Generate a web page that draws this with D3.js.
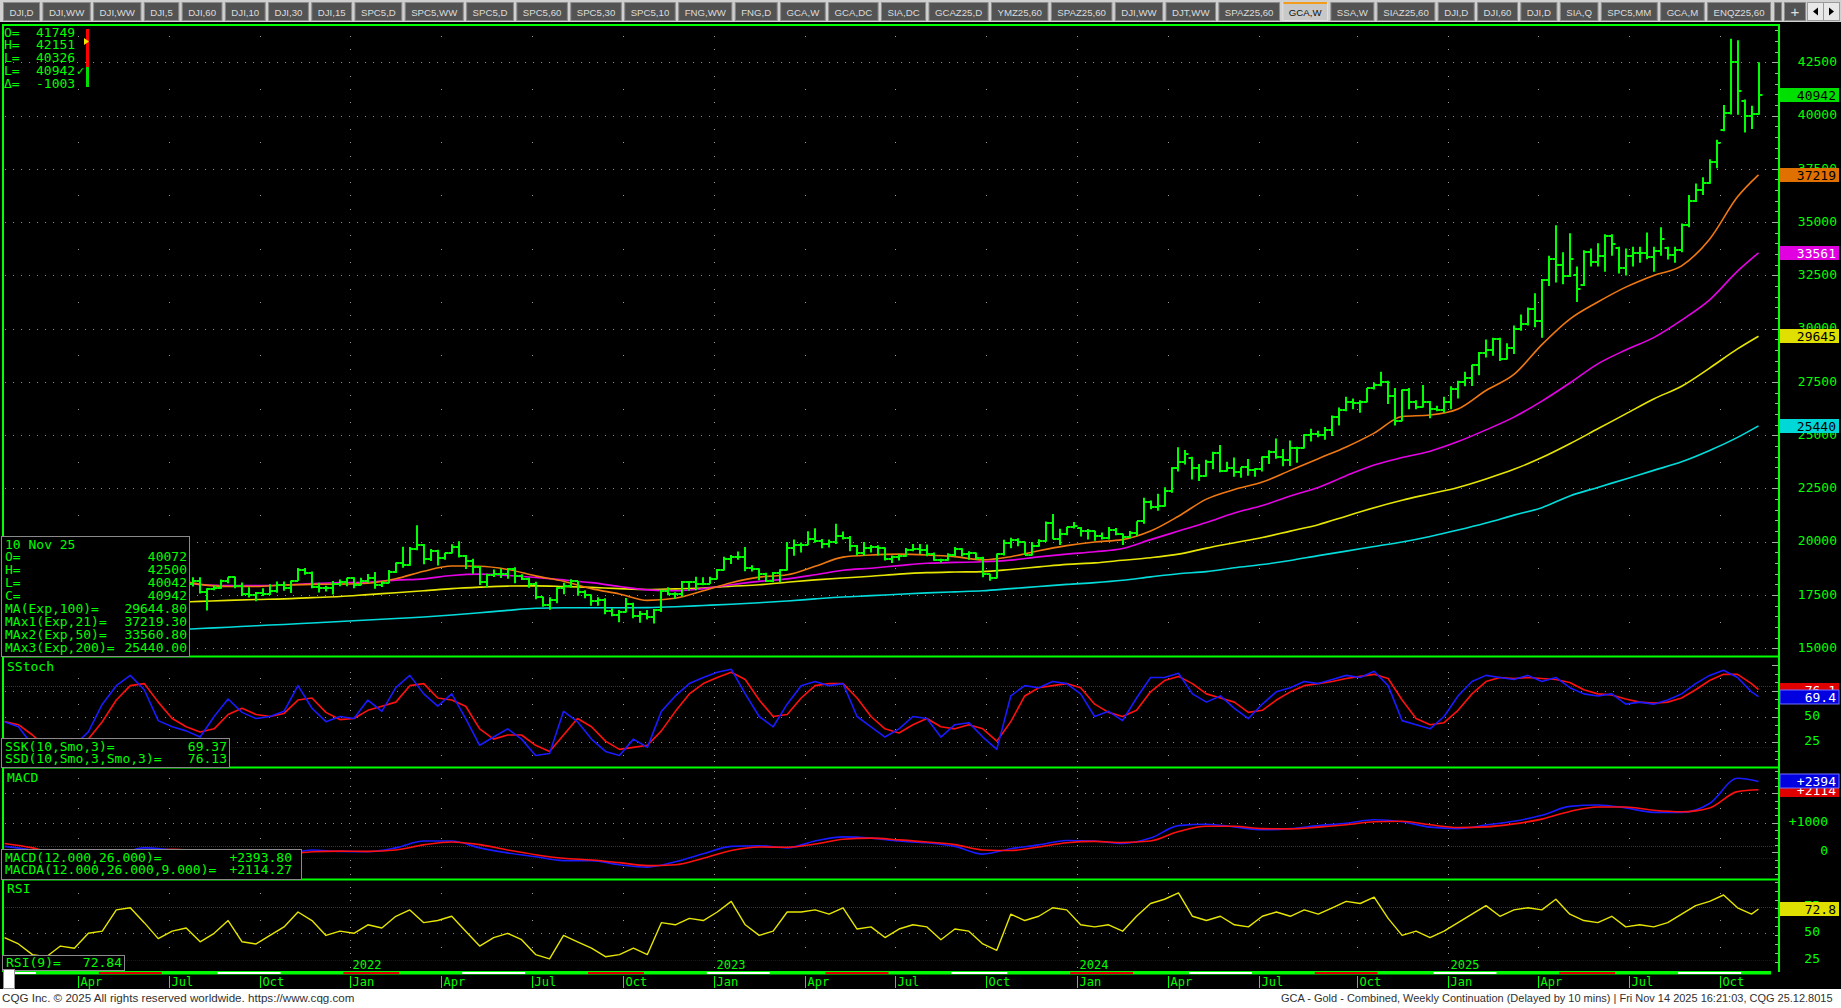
<!DOCTYPE html>
<html>
<head>
<meta charset="utf-8">
<title>GCA,W</title>
<script src="https://cdnjs.cloudflare.com/ajax/libs/d3/7.8.5/d3.min.js"></script>
<style>
html,body{margin:0;padding:0;background:#000;overflow:hidden;width:1841px;height:1008px;}
svg{display:block;}
</style>
</head>
<body>
<svg id="chart" width="1841" height="1008" xmlns="http://www.w3.org/2000/svg"></svg>
<script>
// ---------------- DATA ----------------
const tabs = ["DJI,D","DJI,WW","DJI,WW","DJI,5","DJI,60","DJI,10","DJI,30","DJI,15","SPC5,D","SPC5,WW","SPC5,D","SPC5,60","SPC5,30","SPC5,10","FNG,WW","FNG,D","GCA,W","GCA,DC","SIA,DC","GCAZ25,D","YMZ25,60","SPAZ25,60","DJI,WW","DJT,WW","SPAZ25,60","GCA,W","SSA,W","SIAZ25,60","DJI,D","DJI,60","DJI,D","SIA,Q","SPC5,MM","GCA,M","ENQZ25,60"];
const selectedTab = 25;

const START_DATE = "2021-01-18"; // first weekly bar (Monday)

const open = [
18300,18560,18500,18130,18230,17770,17290,16990,17270,17440,
17330,17300,17450,17800,17770,17680,18320,18380,18770,19060,
18920,18780,17690,17810,17840,18100,18150,18020,18170,17630,
17790,17810,18180,18330,17910,17540,17510,17590,17570,17680,
17960,17830,18180,18680,18520,17880,17840,17840,18040,18110,
18290,17970,18170,18310,17950,18080,18600,19000,18890,19670,
19850,19210,19570,19240,19450,19740,19340,19110,18820,18110,
18420,18510,18500,18710,18400,18260,18010,17420,17030,17270,
17820,17910,18150,17620,17500,17220,17280,16770,16550,16720,
17090,16500,16590,16480,16810,17710,17540,17540,18090,18100,
18000,18040,18260,18690,19210,19280,19290,18760,18740,18500,
18170,18550,18670,19730,19830,19860,20110,20040,19900,19990,
20250,20190,19810,19460,19690,19770,19710,19210,19290,19320,
19620,19640,19600,19420,19130,19160,19400,19650,19420,19450,
19250,18480,18320,19410,19940,20060,19990,19400,19800,20030,
20890,20140,20360,20690,20650,20490,20490,20290,20180,20540,
20380,20240,20390,20960,21850,21610,21660,22380,23450,23740,
23950,23480,23100,23750,24180,23340,23450,23250,23490,23350,
23400,23970,24210,23990,23860,24420,24400,25000,25050,25030,
25240,25850,26200,26580,26500,26570,27200,27350,27480,26850,
25680,27120,26570,26340,26560,26230,26200,26540,27150,27480,
27700,28300,28870,29000,29500,28580,29100,30000,30220,30940,
30350,32300,33270,32980,32470,32500,32050,33580,33130,33400,
34350,33800,32850,33400,33560,33550,33370,33650,33800,33480,
33700,34860,36000,36500,36850,37800,39300,40100,42500,40700,
40000,40072];
const high = [
18750,18750,18760,18550,18270,18160,17600,17400,17570,17570,
17350,17580,17840,17970,17900,18450,18450,18900,19130,19200,
19040,18800,17970,17910,18180,18340,18330,18340,18340,17820,
17950,18230,18340,18360,18090,17870,17640,17820,18010,18140,
18130,18180,18770,18770,18600,18080,17940,18160,18230,18310,
18330,18310,18490,18580,18150,18680,19030,19760,19750,20780,
19900,19660,19620,19480,19880,20020,19380,19200,18850,18500,
18700,18750,18770,18800,18480,18310,18120,17420,17390,17860,
18080,18240,18160,17720,17520,17400,17350,16880,16800,17360,
17140,16750,16800,16850,17750,17870,17630,18160,18130,18360,
18330,18360,18720,19300,19380,19540,19750,18900,18760,18550,
18580,18710,19990,20100,19960,20490,20630,20130,20100,20850,
20480,20270,19850,19990,19850,19840,19730,19350,19410,19710,
19900,19900,19870,19500,19200,19460,19750,19700,19550,19500,
19300,18500,19450,20090,20190,20170,20000,19990,20120,20950,
21300,20610,20710,20930,20690,20600,20500,20440,20690,20650,
20380,20510,20960,22060,21940,22250,22560,23500,24430,24310,
23990,23650,23850,24220,24540,23750,23950,23500,23880,23450,
24000,24300,24840,24350,24750,24460,25050,25300,25210,25380,
25920,26300,26800,26720,26640,27220,27470,27980,27560,27220,
27140,27220,26640,27360,26600,26380,26800,27300,27560,27980,
28310,28900,29490,29570,29570,29320,30150,30660,30990,31660,
32330,33420,34850,33590,34480,32920,33680,33760,34010,34430,
34430,33840,33760,33840,33840,34510,33840,34760,33840,33840,
34930,36270,36810,37110,37950,38870,40500,43600,43530,40760,
40460,42500];
const low = [
18020,18320,17850,18100,17600,17170,16770,16780,17200,17150,
16770,17250,17300,17600,17560,17650,18080,18300,18700,18560,
18650,17610,17650,17500,17830,17960,17890,17900,17570,16770,
17730,17800,18050,17820,17450,17380,17210,17460,17500,17610,
17700,17590,18160,18450,17820,17620,17670,17530,17910,17910,
17820,17960,18080,17800,17880,18060,18530,18780,18870,19600,
18940,19100,18890,19160,19450,19260,18720,18500,17970,17860,
18350,18300,18260,18050,18200,17840,17300,16950,16810,17110,
17540,17840,17470,17350,17000,17000,16600,16500,16220,16680,
16410,16200,16350,16160,16700,17490,17310,17430,17700,17730,
17960,18020,18240,18650,18960,19150,18620,18600,18190,18110,
18100,18100,18650,19340,19490,19840,19950,19700,19730,19900,
20100,19550,19360,19350,19500,19360,19120,19000,19120,19300,
19550,19420,19320,19110,19020,19110,19320,19310,19160,19150,
18340,18170,18290,19350,19700,19790,19380,19360,19770,20000,
20120,19850,20300,20620,20250,20100,20050,20110,20100,20300,
19850,20170,20270,20850,21520,21460,21650,22300,23300,23620,
22920,22850,23050,23400,23260,23300,23050,23000,23100,23050,
23300,23650,23900,23540,23550,23710,24380,24710,24900,24790,
24960,25460,26130,26220,26050,26550,27140,27300,26470,25460,
25650,26220,26220,26300,25800,26130,26050,26220,26720,27300,
27310,27810,28650,28730,28480,28550,28810,29900,30150,30070,
29570,32000,32170,32080,32420,31250,32000,32920,32920,32670,
33420,32590,32500,32920,33090,33260,32670,33420,33250,33090,
33590,34760,35940,36270,36800,37530,39260,40050,40040,39200,
39370,40042];
const close = [
18560,18500,18130,18230,17770,17290,16990,17270,17440,17330,
17300,17450,17800,17770,17680,18320,18380,18770,19060,18920,
18780,17690,17810,17840,18100,18150,18020,18170,17630,17790,
17810,18180,18330,17910,17540,17510,17590,17570,17680,17960,
17830,18180,18680,18520,17880,17840,17840,18040,18110,18290,
17970,18170,18310,17950,18080,18600,19000,18890,19670,19850,
19210,19570,19240,19450,19740,19340,19110,18820,18110,18420,
18510,18500,18710,18400,18260,18010,17420,17030,17270,17820,
17910,18150,17620,17500,17220,17280,16770,16550,16720,17090,
16500,16590,16480,16810,17710,17540,17540,18090,18100,18000,
18040,18260,18690,19210,19280,19290,18760,18740,18500,18170,
18550,18670,19730,19830,19860,20110,20040,19900,19990,20250,
20190,19810,19460,19690,19770,19710,19210,19290,19320,19620,
19640,19600,19420,19130,19160,19400,19650,19420,19450,19250,
18480,18320,19410,19940,20060,19990,19400,19800,20030,20890,
20140,20360,20690,20720,20490,20490,20290,20180,20540,20380,
20240,20390,20960,21850,21610,21660,22380,23450,23740,24130,
23480,23100,23750,24180,23340,23450,23250,23490,23350,23400,
23970,24210,23990,23860,24420,24400,25000,25050,25030,25240,
25850,26200,26580,26500,26570,27200,27350,27480,26850,25680,
27120,26570,26340,26560,26230,26200,26540,27150,27480,27700,
28300,28870,29000,29500,28580,29100,30000,30220,30940,30350,
32300,33270,32980,32470,33290,31880,33580,33130,33400,34350,
33960,32850,33400,33560,33550,33370,33650,34200,33480,33700,
34860,36000,36500,36850,37800,38700,40100,42500,41150,40000,
40090,40942];

// moving averages, read every MA_STEP bars (last value = last bar)
const MA_STEP = 4;
const ema21 = [
18600,18450,17900,17650,17800,18300,18250,18000,17900,17900,
17970,18000,18010,18050,18260,18620,18860,18850,18700,18400,
18150,17800,17550,17250,17350,17700,18080,18340,18450,18850,
19280,19380,19420,19380,19300,19150,19300,19580,19820,19990,
20100,20500,21200,22000,22450,22800,23350,23900,24450,25100,
25880,25950,26230,27100,27850,29250,30450,31250,31950,32500,
32950,34200,36190,37219.3];
const ema50 = [
18350,18300,18100,17950,17950,18100,18100,17990,17940,17940,
17970,18040,18080,18110,18200,18260,18420,18480,18420,18320,
18210,18080,17900,17740,17700,17800,17980,18140,18260,18450,
18660,18760,18880,18990,19030,19060,19140,19290,19420,19530,
19680,20100,20500,20900,21350,21700,22150,22550,23100,23600,
23950,24250,24700,25250,25850,26600,27450,28350,29000,29580,
30400,31350,32700,33560.8];
const ema100 = [
16500,16640,16760,16850,16960,17080,17150,17200,17250,17290,
17320,17380,17430,17520,17610,17700,17800,17870,17920,17930,
17900,17860,17800,17760,17790,17830,17910,17980,18100,18210,
18300,18380,18480,18550,18580,18600,18700,18820,18940,19010,
19130,19250,19420,19700,19950,20200,20500,20800,21200,21600,
21950,22250,22550,22950,23400,23950,24600,25300,26000,26700,
27300,28150,29050,29644.8];
const ema200 = [
15500,15560,15620,15680,15740,15800,15860,15930,15990,16060,
16120,16190,16260,16330,16400,16470,16560,16670,16780,16880,
16900,16900,16900,16910,16950,17010,17070,17140,17220,17320,
17410,17470,17540,17600,17650,17700,17800,17900,18000,18080,
18190,18350,18500,18600,18780,18930,19120,19350,19560,19780,
19990,20250,20550,20880,21250,21600,22150,22550,22950,23350,
23750,24280,24900,25440.0];

// indicators read every IND_STEP bars
const IND_STEP = 2;
const stochK = [
45,40,22,10,14,22,35,62,80,90,
76,46,40,36,30,50,67,54,48,50,
55,80,58,45,50,48,66,55,78,90,
72,60,72,48,22,30,38,28,12,14,
55,45,28,16,12,28,20,55,70,82,
88,93,96,72,50,40,62,80,84,80,
82,50,40,30,38,50,48,30,42,44,
30,18,70,80,78,84,82,72,50,55,
46,68,88,88,92,72,64,70,58,48,
62,74,78,84,82,86,90,88,94,80,
46,42,38,50,70,84,90,88,86,90,
84,88,78,72,70,72,62,64,62,66,
72,82,90,95,88,74,69.37];
const stochD = [
45,42,32,20,14,16,28,45,66,80,
82,64,48,40,35,38,52,58,52,50,
53,66,68,54,47,48,56,60,64,80,
82,68,66,60,38,28,32,32,22,16,
32,48,40,26,18,20,22,36,55,72,
82,88,93,86,66,50,52,68,80,82,
82,68,50,38,34,42,48,40,38,42,
38,26,45,70,78,80,82,78,62,54,
50,56,74,85,89,82,72,68,64,54,
56,66,74,80,82,84,87,89,91,87,
66,48,42,44,56,72,84,88,87,88,
87,86,83,76,72,71,67,64,63,64,
68,76,85,91,91,82,76.13];
const rsi = [
46,40,30,28,38,36,50,52,72,74,
60,45,52,55,42,50,62,42,40,48,
56,70,62,48,52,50,58,55,66,72,
60,62,66,52,38,46,50,44,30,26,
48,42,36,28,30,36,30,60,58,64,
62,70,80,58,48,52,70,70,72,68,
74,54,56,46,54,58,56,44,54,52,
40,34,68,62,66,74,72,58,56,58,
52,66,78,82,88,66,62,66,58,56,
66,70,66,72,68,74,80,78,84,64,
48,52,46,52,60,68,76,66,72,74,
72,82,68,62,60,66,56,58,56,60,
68,76,80,86,74,68,72.84];
const MACD_STEP = 4;
const macd = [
200,60,-250,-300,-100,150,80,0,-20,-80,
-60,80,30,20,150,380,380,150,-20,-150,
-280,-280,-420,-500,-320,-50,200,220,150,380,
520,480,380,320,200,-60,120,250,400,380,
300,480,900,950,860,760,800,900,980,1100,
1030,850,800,920,1050,1250,1550,1600,1500,1350,
1350,1650,2500,2393.8];
const macdA = [
300,150,-100,-250,-200,0,100,40,0,-50,
-60,20,40,30,80,250,350,260,80,-80,
-200,-260,-350,-450,-420,-200,60,180,170,280,
440,480,420,350,260,80,60,180,320,370,
330,380,700,880,880,800,790,850,930,1030,
1050,930,840,860,960,1120,1380,1530,1530,1420,
1370,1500,2050,2114.27];

// tick labels / levels
const priceTicks = [15000,17500,20000,22500,25000,27500,30000,32500,35000,37500,40000,42500];
const stochTicks = [25,50,75];
const macdTicks = [0,1000,2000];
const rsiTicks = [25,50,75];
const monthNames = ["Jan","Feb","Mar","Apr","May","Jun","Jul","Aug","Sep","Oct","Nov","Dec"];

// quote header
const quoteLabels = ["O=","H=","L=","L=","\u0394="];
const quoteValues = ["41749","42151","40326","40942","-1003"];

// cycle strip under the panels (bar index ranges)
const stripStart = [2,14,31,49,66,84,101,118,136,153,170,188,205,223,240];
const stripEnd   = [5,23,40,57,75,92,110,127,144,162,179,197,214,231,249];
const stripKind  = ["w","r","w","r","w","r","w","r","w","r","w","r","w","r","w"];

const footerLeft = "CQG Inc. \u00A9 2025 All rights reserved worldwide. https://www.cqg.com";
const footerRight = "GCA - Gold - Combined, Weekly Continuation (Delayed by 10 mins) | Fri Nov 14 2025 16:21:03, CQG 25.12.8015";

// ---------------- DRAW ----------------
const W = 1841, H = 1008;
const MONO = "'DejaVu Sans Mono','Liberation Mono',monospace";
const SANS = "'Liberation Sans',Arial,sans-serif";
const GREEN = "#00ff00";
const N = close.length;
const d0 = new Date(START_DATE + "T00:00:00");
const dates = d3.range(N).map(i => d3.timeDay.offset(d0, 7 * i));

const svg = d3.select("#chart");
svg.append("rect").attr("width", W).attr("height", H).attr("fill", "#000");

const x = d3.scaleBand().domain(d3.range(N)).range([1, 1762]).padding(0);
const bw = x.bandwidth();
const cx = i => x(i) + bw / 2;

const PL = 3, PR = 1779;
const panels = {
  price: {top: 25, bot: 656},
  stoch: {top: 657, bot: 767},
  macd: {top: 768, bot: 879},
  rsi: {top: 880, bot: 971}
};
const yP = d3.scaleLinear().domain([15000, 42500]).range([648.3, 62.3]);
const yS = d3.scaleLinear().domain([0, 100]).range([767.9, 665.1]);
const yM = d3.scaleLinear().domain([0, 1000]).range([852.3, 822.7]);
const yR = d3.scaleLinear().domain([25, 50]).range([959.9, 933.3]);

const defs = svg.append("defs");
Object.entries(panels).forEach(([k, p]) => {
  defs.append("clipPath").attr("id", "clip-" + k)
    .append("rect").attr("x", PL + 1).attr("y", p.top).attr("width", PR - PL - 1).attr("height", p.bot - p.top);
});

// quarter ticks
const qTicks = [];
for (let i = 1; i < N; i++) {
  const m = dates[i].getMonth();
  if (m !== dates[i - 1].getMonth() && m % 3 === 0) {
    qTicks.push({i: i, x: Math.round(x(i)) + 0.5, m: m, year: dates[i].getFullYear()});
  }
}

// grids
const gridG = svg.append("g");
function hGrid(vals, y, color, dash) {
  gridG.selectAll(null).data(vals).join("line")
    .attr("x1", PL + 2).attr("x2", PR - 1)
    .attr("y1", v => Math.round(y(v)) + 0.5).attr("y2", v => Math.round(y(v)) + 0.5)
    .attr("stroke", color).attr("stroke-width", 1).attr("stroke-dasharray", dash);
}
hGrid(priceTicks, yP, "#8c8c8c", "1,7");
hGrid(stochTicks, yS, "#8c8c8c", "1,7");
hGrid([1000, 2000], yM, "#8c8c8c", "1,7");
hGrid([50], yR, "#8c8c8c", "1,7");
hGrid([80], yS, "#b00000", "1,1");
hGrid([20], yS, "#0000d0", "1,1");
hGrid([200], yM, "#b00000", "1,1");
hGrid([-200], yM, "#0000d0", "1,1");
hGrid([75], yR, "#b00000", "1,1");
hGrid([25], yR, "#0000d0", "1,1");

// vertical dotted grid (dots at half steps, denser on year boundaries)
function vDots(p, y, step) {
  const lo = y.invert(p.bot - 2), hi = y.invert(p.top + 2);
  const a = Math.min(lo, hi), b = Math.max(lo, hi);
  const dots = [];
  qTicks.forEach(t => {
    const frac = t.m === 0 ? [0.25, 0.5, 0.75] : [0.5];
    for (let k = Math.floor(a / step) - 1; k <= Math.ceil(b / step); k++) {
      frac.forEach(f => {
        const v = (k + f) * step;
        if (v > a && v < b) dots.push({x: t.x - 0.5, y: Math.round(y(v))});
      });
    }
  });
  gridG.selectAll(null).data(dots).join("rect")
    .attr("x", d => d.x).attr("y", d => d.y).attr("width", 1).attr("height", 1).attr("fill", "#9a9a9a");
}
vDots(panels.price, yP, 2500);
vDots(panels.stoch, yS, 25);
vDots(panels.macd, yM, 1000);
vDots(panels.rsi, yR, 25);

// helper for sampled series
function sampled(vals, step) {
  return vals.map((v, k) => ({i: Math.min(k * step, N - 1), v: v}));
}
function drawSeries(panelKey, vals, step, y, color, width, curve) {
  svg.append("path")
    .attr("clip-path", "url(#clip-" + panelKey + ")")
    .attr("d", d3.line().x(d => cx(d.i)).y(d => y(d.v)).curve(curve)(sampled(vals, step)))
    .attr("fill", "none").attr("stroke", color).attr("stroke-width", width)
    .attr("stroke-linejoin", "round");
}

// moving averages
drawSeries("price", ema200, MA_STEP, yP, "#00dcdc", 1.6, d3.curveMonotoneX);
drawSeries("price", ema100, MA_STEP, yP, "#e6e600", 1.6, d3.curveMonotoneX);
drawSeries("price", ema50, MA_STEP, yP, "#e600e6", 1.6, d3.curveMonotoneX);
drawSeries("price", ema21, MA_STEP, yP, "#f07810", 1.6, d3.curveMonotoneX);

// OHLC bars
const barG = svg.append("g").attr("clip-path", "url(#clip-price)");
barG.selectAll("path").data(d3.range(N)).join("path")
  .attr("d", i => {
    const c = Math.round(cx(i));
    const yh = yP(high[i]), yl = yP(low[i]);
    const yo = Math.round(yP(open[i])), yc = Math.round(yP(close[i]));
    return `M${c},${yh}V${yl}M${c - 3.5},${yo}H${c}M${c},${yc}H${c + 3.5}`;
  })
  .attr("fill", "none").attr("stroke", GREEN).attr("stroke-width", 2);

// indicators
drawSeries("stoch", stochD, IND_STEP, yS, "#ff1010", 1.6, d3.curveLinear);
drawSeries("stoch", stochK, IND_STEP, yS, "#1a1aff", 1.6, d3.curveLinear);
drawSeries("macd", macd, MACD_STEP, yM, "#1a1aff", 1.6, d3.curveMonotoneX);
drawSeries("macd", macdA, MACD_STEP, yM, "#ff1010", 1.6, d3.curveMonotoneX);
drawSeries("rsi", rsi, IND_STEP, yR, "#e6e600", 1.4, d3.curveLinear);

// panel frames
const frame = svg.append("g").attr("stroke", GREEN).attr("stroke-width", 2).attr("fill", "none");
frame.append("line").attr("x1", PL).attr("x2", PR + 1).attr("y1", 25).attr("y2", 25);
[656.5, 767.5, 879.5].forEach(yy => frame.append("line").attr("x1", PL).attr("x2", PR + 1).attr("y1", yy).attr("y2", yy));
frame.append("line").attr("x1", PL).attr("x2", PL).attr("y1", 24).attr("y2", 972);
frame.append("line").attr("x1", PR).attr("x2", PR).attr("y1", 24).attr("y2", 972);

// right-edge tick marks
const tickG = svg.append("g").attr("stroke", "#a8a8a8").attr("stroke-width", 1);
function edgeTicks(p, y, from, to, step, majorEvery) {
  for (let v = from; v <= to + 1e-6; v += step) {
    const yy = Math.round(y(v)) + 0.5;
    if (yy < p.top + 2 || yy > p.bot - 2) continue;
    const major = Math.abs(v / majorEvery - Math.round(v / majorEvery)) < 1e-6;
    tickG.append("line").attr("x1", PR - (major ? 7 : 4)).attr("x2", PR - 1).attr("y1", yy).attr("y2", yy);
  }
}
edgeTicks(panels.price, yP, 14500, 44500, 500, 2500);
edgeTicks(panels.stoch, yS, 0, 108, 25 / 3, 25);
edgeTicks(panels.macd, yM, -1000, 2750, 250, 1000);
edgeTicks(panels.rsi, yR, 15, 100, 25 / 3, 25);

// right-axis labels
const axG = svg.append("g").attr("font-family", MONO).attr("font-size", 13).attr("fill", GREEN).attr("text-anchor", "end");
priceTicks.forEach(v => axG.append("text").attr("x", 1837).attr("y", yP(v) - 1).attr("dy", "0.36em").text(v));
stochTicks.forEach(v => axG.append("text").attr("x", 1820).attr("y", yS(v) - 1.5).attr("dy", "0.36em").text(v));
macdTicks.forEach(v => axG.append("text").attr("x", 1828).attr("y", yM(v) - 1.5).attr("dy", "0.36em").text((v > 0 ? "+" : "") + v));
rsiTicks.forEach(v => axG.append("text").attr("x", 1820).attr("y", yR(v) - 1.5).attr("dy", "0.36em").text(v));

// last-value boxes
function valueBox(yc, txt, bg, fg, border) {
  const g = svg.append("g");
  g.append("rect").attr("x", 1780).attr("y", Math.round(yc - 7)).attr("width", 59).attr("height", 14)
    .attr("fill", bg).attr("stroke", border || "none").attr("stroke-width", 1);
  g.append("text").attr("x", 1836).attr("y", Math.round(yc - 7) + 7).attr("dy", "0.36em")
    .attr("text-anchor", "end").attr("font-family", MONO).attr("font-size", 13).attr("fill", fg).text(txt);
}
const lastC = close[N - 1];
valueBox(yP(lastC), String(lastC), "#00e000", "#000");
valueBox(yP(ema21[ema21.length - 1]), Math.round(ema21[ema21.length - 1]), "#e07000", "#000");
valueBox(yP(ema50[ema50.length - 1]), Math.round(ema50[ema50.length - 1]), "#e000e0", "#fff");
valueBox(yP(ema100[ema100.length - 1]), Math.round(ema100[ema100.length - 1]), "#e0e000", "#000");
valueBox(yP(ema200[ema200.length - 1]), Math.round(ema200[ema200.length - 1]), "#00d8d8", "#000");
const lastD = stochD[stochD.length - 1], lastK = stochK[stochK.length - 1];
valueBox(yS(lastD), lastD.toFixed(1), "#e00000", "#fff");
valueBox(yS(lastK), lastK.toFixed(1), "#0000e0", "#fff", "#7070ff");
const lastA = macdA[macdA.length - 1], lastM = macd[macd.length - 1];
valueBox(yM(lastA), "+" + Math.round(lastA), "#e00000", "#fff");
valueBox(yM(lastM), "+" + Math.round(lastM), "#0000e0", "#fff", "#7070ff");
const lastR = rsi[rsi.length - 1];
valueBox(yR(lastR), lastR.toFixed(1), "#e0e000", "#000");

// info boxes
function infoBox(x0, y0, w, h, rows, valueRight, firstBase, step) {
  const g = svg.append("g").attr("font-family", MONO).attr("font-size", 13).attr("fill", GREEN);
  g.append("rect").attr("x", x0 + 0.5).attr("y", y0 + 0.5).attr("width", w).attr("height", h)
    .attr("fill", "#000").attr("stroke", "#8a8a8a").attr("stroke-width", 1);
  rows.forEach((r, k) => {
    const yy = firstBase + k * step;
    g.append("text").attr("x", x0 + 4).attr("y", yy).text(r[0]);
    if (r[1] !== undefined) g.append("text").attr("x", valueRight).attr("y", yy).attr("text-anchor", "end").text(r[1]);
  });
}
const li = N - 1;
infoBox(1, 536, 188, 120, [
  [d3.timeFormat("%d %b %y")(dates[li])],
  ["O=", String(open[li])],
  ["H=", String(high[li])],
  ["L=", String(low[li])],
  ["C=", String(close[li])],
  ["MA(Exp,100)=", ema100[ema100.length - 1].toFixed(2)],
  ["MAx1(Exp,21)=", ema21[ema21.length - 1].toFixed(2)],
  ["MAx2(Exp,50)=", ema50[ema50.length - 1].toFixed(2)],
  ["MAx3(Exp,200)=", ema200[ema200.length - 1].toFixed(2)]
], 187, 548.5, 12.95);
infoBox(1, 738, 228, 29, [
  ["SSK(10,Smo,3)=", lastK.toFixed(2)],
  ["SSD(10,Smo,3,Smo,3)=", lastD.toFixed(2)]
], 227, 750.5, 12.7);
infoBox(1, 849, 300, 30, [
  ["MACD(12.000,26.000)=", "+" + lastM.toFixed(2)],
  ["MACDA(12.000,26.000,9.000)=", "+" + lastA.toFixed(2)]
], 292, 861.5, 12.8);
infoBox(2, 955, 122, 15, [["RSI(9)=", lastR.toFixed(2)]], 122, 967, 0);

// panel titles
const ttl = svg.append("g").attr("font-family", MONO).attr("font-size", 13).attr("fill", GREEN);
ttl.append("text").attr("x", 7).attr("y", 671).text("SStoch");
ttl.append("text").attr("x", 7).attr("y", 782).text("MACD");
ttl.append("text").attr("x", 7).attr("y", 893).text("RSI");

// quote header (top-left)
const qh = svg.append("g").attr("font-family", MONO).attr("font-size", 13).attr("fill", GREEN);
const qBase = [36.7, 49, 61.5, 75, 87.7];
quoteLabels.forEach((l, k) => {
  qh.append("text").attr("x", 4).attr("y", qBase[k]).text(l);
  qh.append("text").attr("x", 36).attr("y", qBase[k]).text(quoteValues[k]);
});
qh.append("text").attr("x", 76).attr("y", 75).attr("font-size", 11).attr("font-family", "'DejaVu Sans',sans-serif").text("\u2713");
svg.append("rect").attr("x", 86).attr("y", 29).attr("width", 3).attr("height", 38).attr("fill", "#ff0000");
svg.append("rect").attr("x", 86).attr("y", 67).attr("width", 3).attr("height", 20).attr("fill", "#00e000");
svg.append("path").attr("d", "M84,38L89,41.5L84,45Z").attr("fill", "#e8e800");

// bottom cycle strip
svg.append("rect").attr("x", 15).attr("y", 971).attr("width", 1756).attr("height", 3.5).attr("fill", GREEN);
svg.selectAll(null).data(d3.range(stripStart.length)).join("rect")
  .attr("x", k => x(stripStart[k])).attr("y", 972)
  .attr("width", k => x(stripEnd[k]) - x(stripStart[k])).attr("height", 2)
  .attr("fill", k => stripKind[k] === "w" ? "#ffffff" : "#e00000");
svg.append("rect").attr("x", 3.5).attr("y", 969.5).attr("width", 11).attr("height", 19)
  .attr("fill", "#ffffff").attr("stroke", "#909090");

// time axis
const tG = svg.append("g").attr("font-family", MONO).attr("font-size", 12).attr("fill", GREEN);
qTicks.forEach(t => {
  tG.append("line").attr("x1", t.x).attr("x2", t.x).attr("y1", 976).attr("y2", 988)
    .attr("stroke", GREEN).attr("stroke-width", 1);
  tG.append("text").attr("x", t.x + 2).attr("y", 986).text(monthNames[t.m]);
  if (t.m === 0) tG.append("text").attr("x", t.x + 2).attr("y", 969).text(t.year);
});

// footer
svg.append("rect").attr("x", 0).attr("y", 989).attr("width", W).attr("height", H - 989).attr("fill", "#ffffff");
function fitText(str, x0, maxW) {
  const t = svg.append("text").attr("x", x0).attr("y", 1002).attr("font-family", SANS).attr("font-size", 12)
    .attr("fill", "#303030").text(str);
  const natural = t.node().getComputedTextLength();
  if (natural > maxW) t.attr("font-size", 12 * maxW / natural);
  return t;
}
fitText(footerLeft, 2, 353);
fitText(footerRight, 1281, 552);

// tab bar
const tabG = svg.append("g");
tabG.append("rect").attr("x", 0).attr("y", 0).attr("width", W).attr("height", 22).attr("fill", "#d0d0d0");
const meas = tabG.append("text").attr("font-family", SANS).attr("font-size", 12).text("");
const tw = tabs.map(t => { meas.text(t); return meas.node().getComputedTextLength(); });
meas.remove();
const pad = 8, gap = 3;
const total = d3.sum(tw) + 2 * pad * tabs.length + gap * (tabs.length - 1);
const sc = (1771 - 3) / total;
const tabFont = 12 * Math.min(1, sc);
let tx = 3;
tabs.forEach((t, k) => {
  const w = (tw[k] + 2 * pad) * sc;
  const sel = k === selectedTab;
  tabG.append("rect").attr("x", tx + 0.5).attr("y", 2.5).attr("width", w - 1).attr("height", 18)
    .attr("fill", sel ? "#c8c8c8" : "#535353").attr("stroke", sel ? "#e0e0e0" : "#8c8c8c");
  if (sel) tabG.append("rect").attr("x", tx + 1).attr("y", 2).attr("width", w - 2).attr("height", 2).attr("fill", "#f39c1a");
  tabG.append("text").attr("x", tx + w / 2).attr("y", 16).attr("text-anchor", "middle")
    .attr("font-family", SANS).attr("font-size", tabFont).attr("fill", sel ? "#111" : "#dcdcdc").text(t);
  tx += w + gap * sc;
});
tabG.append("rect").attr("x", 1774.5).attr("y", 2.5).attr("width", 7).attr("height", 18).attr("fill", "#535353").attr("stroke", "#8c8c8c");
tabG.append("rect").attr("x", 1784.5).attr("y", 2.5).attr("width", 21).attr("height", 18).attr("fill", "#535353").attr("stroke", "#8c8c8c");
tabG.append("text").attr("x", 1795).attr("y", 16.5).attr("text-anchor", "middle").attr("font-family", SANS)
  .attr("font-size", 15).attr("fill", "#e0e0e0").text("+");
tabG.append("rect").attr("x", 1807.5).attr("y", 2.5).attr("width", 32).attr("height", 18).attr("fill", "#e8e8e8").attr("stroke", "#9a9a9a");
tabG.append("line").attr("x1", 1823.5).attr("x2", 1823.5).attr("y1", 3).attr("y2", 20).attr("stroke", "#9a9a9a");
tabG.append("path").attr("d", "M1818,7.5L1813,11.5L1818,15.5Z").attr("fill", "#000");
tabG.append("path").attr("d", "M1829,7.5L1834,11.5L1829,15.5Z").attr("fill", "#000");
</script>
</body>
</html>
